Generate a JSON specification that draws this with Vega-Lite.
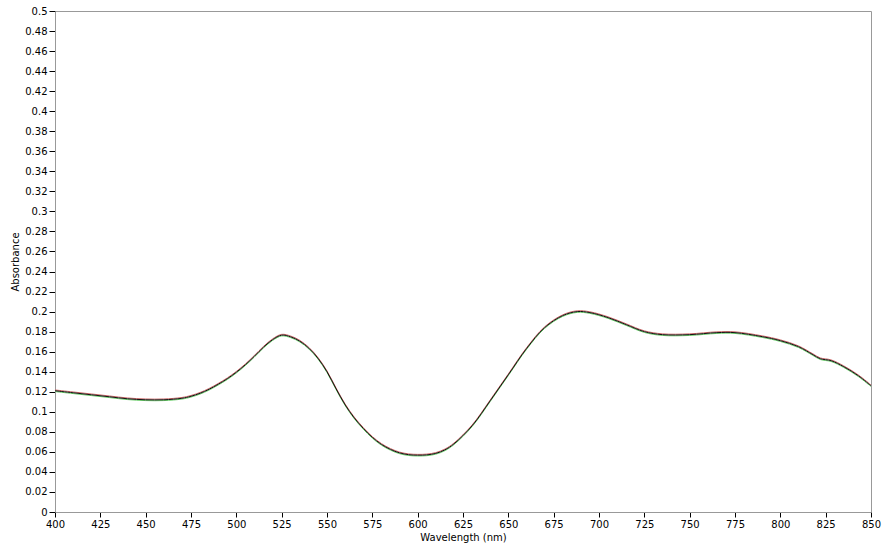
{
  "$schema": "https://vega.github.io/schema/vega-lite/v6.json",
  "width": 816,
  "height": 501,
  "autosize": "none",
  "padding": {"left": 55, "top": 11, "right": 17, "bottom": 41},
  "background": "white",
  "config": {
    "view": {"stroke": "#999999", "strokeWidth": 1},
    "axis": {"labelFont": "DejaVu Sans", "titleFont": "DejaVu Sans", "labelFontSize": 10, "titleFontSize": 10, "titleFontWeight": "normal", "labelColor": "#000", "titleColor": "#000", "domainColor": "#999999", "tickColor": "#000", "grid": false}
  },
  "datasets": {
    "spectra": [
      {"s": "green", "wl": 400, "a": 0.1202}, {"s": "green", "wl": 410, "a": 0.1182}, {"s": "green", "wl": 420, "a": 0.1162}, {"s": "green", "wl": 430, "a": 0.1142}, {"s": "green", "wl": 440, "a": 0.1122}, {"s": "green", "wl": 450, "a": 0.1112}, {"s": "green", "wl": 460, "a": 0.1112}, {"s": "green", "wl": 470, "a": 0.1127}, {"s": "green", "wl": 475, "a": 0.1147}, {"s": "green", "wl": 480, "a": 0.1177}, {"s": "green", "wl": 485, "a": 0.1217}, {"s": "green", "wl": 490, "a": 0.1267}, {"s": "green", "wl": 495, "a": 0.1322}, {"s": "green", "wl": 500, "a": 0.1387}, {"s": "green", "wl": 505, "a": 0.1462}, {"s": "green", "wl": 510, "a": 0.1547}, {"s": "green", "wl": 515, "a": 0.1637}, {"s": "green", "wl": 520, "a": 0.1712}, {"s": "green", "wl": 525, "a": 0.1757}, {"s": "green", "wl": 530, "a": 0.1740}, {"s": "green", "wl": 535, "a": 0.1697}, {"s": "green", "wl": 540, "a": 0.1627}, {"s": "green", "wl": 545, "a": 0.1527}, {"s": "green", "wl": 550, "a": 0.1392}, {"s": "green", "wl": 555, "a": 0.1222}, {"s": "green", "wl": 560, "a": 0.1062}, {"s": "green", "wl": 565, "a": 0.0932}, {"s": "green", "wl": 570, "a": 0.0827}, {"s": "green", "wl": 575, "a": 0.0737}, {"s": "green", "wl": 580, "a": 0.0667}, {"s": "green", "wl": 585, "a": 0.0617}, {"s": "green", "wl": 590, "a": 0.0582}, {"s": "green", "wl": 595, "a": 0.0564}, {"s": "green", "wl": 600, "a": 0.0559}, {"s": "green", "wl": 605, "a": 0.0562}, {"s": "green", "wl": 610, "a": 0.0577}, {"s": "green", "wl": 615, "a": 0.0612}, {"s": "green", "wl": 620, "a": 0.0672}, {"s": "green", "wl": 630, "a": 0.0852}, {"s": "green", "wl": 640, "a": 0.1102}, {"s": "green", "wl": 650, "a": 0.1362}, {"s": "green", "wl": 660, "a": 0.1622}, {"s": "green", "wl": 670, "a": 0.1832}, {"s": "green", "wl": 680, "a": 0.1952}, {"s": "green", "wl": 688, "a": 0.1992}, {"s": "green", "wl": 695, "a": 0.1982}, {"s": "green", "wl": 705, "a": 0.1932}, {"s": "green", "wl": 715, "a": 0.1862}, {"s": "green", "wl": 725, "a": 0.1792}, {"s": "green", "wl": 735, "a": 0.1762}, {"s": "green", "wl": 750, "a": 0.1762}, {"s": "green", "wl": 765, "a": 0.1782}, {"s": "green", "wl": 775, "a": 0.1782}, {"s": "green", "wl": 790, "a": 0.1742}, {"s": "green", "wl": 800, "a": 0.1702}, {"s": "green", "wl": 810, "a": 0.1642}, {"s": "green", "wl": 818, "a": 0.1562}, {"s": "green", "wl": 822, "a": 0.1522}, {"s": "green", "wl": 828, "a": 0.1502}, {"s": "green", "wl": 835, "a": 0.1442}, {"s": "green", "wl": 843, "a": 0.1352}, {"s": "green", "wl": 850, "a": 0.1252},
      {"s": "red", "wl": 400, "a": 0.1218}, {"s": "red", "wl": 410, "a": 0.1198}, {"s": "red", "wl": 420, "a": 0.1178}, {"s": "red", "wl": 430, "a": 0.1158}, {"s": "red", "wl": 440, "a": 0.1138}, {"s": "red", "wl": 450, "a": 0.1128}, {"s": "red", "wl": 460, "a": 0.1128}, {"s": "red", "wl": 470, "a": 0.1143}, {"s": "red", "wl": 475, "a": 0.1163}, {"s": "red", "wl": 480, "a": 0.1193}, {"s": "red", "wl": 485, "a": 0.1233}, {"s": "red", "wl": 490, "a": 0.1283}, {"s": "red", "wl": 495, "a": 0.1338}, {"s": "red", "wl": 500, "a": 0.1403}, {"s": "red", "wl": 505, "a": 0.1478}, {"s": "red", "wl": 510, "a": 0.1563}, {"s": "red", "wl": 515, "a": 0.1653}, {"s": "red", "wl": 520, "a": 0.1728}, {"s": "red", "wl": 525, "a": 0.1773}, {"s": "red", "wl": 530, "a": 0.1756}, {"s": "red", "wl": 535, "a": 0.1713}, {"s": "red", "wl": 540, "a": 0.1643}, {"s": "red", "wl": 545, "a": 0.1543}, {"s": "red", "wl": 550, "a": 0.1408}, {"s": "red", "wl": 555, "a": 0.1238}, {"s": "red", "wl": 560, "a": 0.1078}, {"s": "red", "wl": 565, "a": 0.0948}, {"s": "red", "wl": 570, "a": 0.0843}, {"s": "red", "wl": 575, "a": 0.0753}, {"s": "red", "wl": 580, "a": 0.0683}, {"s": "red", "wl": 585, "a": 0.0633}, {"s": "red", "wl": 590, "a": 0.0598}, {"s": "red", "wl": 595, "a": 0.0580}, {"s": "red", "wl": 600, "a": 0.0575}, {"s": "red", "wl": 605, "a": 0.0578}, {"s": "red", "wl": 610, "a": 0.0593}, {"s": "red", "wl": 615, "a": 0.0628}, {"s": "red", "wl": 620, "a": 0.0688}, {"s": "red", "wl": 630, "a": 0.0868}, {"s": "red", "wl": 640, "a": 0.1118}, {"s": "red", "wl": 650, "a": 0.1378}, {"s": "red", "wl": 660, "a": 0.1638}, {"s": "red", "wl": 670, "a": 0.1848}, {"s": "red", "wl": 680, "a": 0.1968}, {"s": "red", "wl": 688, "a": 0.2008}, {"s": "red", "wl": 695, "a": 0.1998}, {"s": "red", "wl": 705, "a": 0.1948}, {"s": "red", "wl": 715, "a": 0.1878}, {"s": "red", "wl": 725, "a": 0.1808}, {"s": "red", "wl": 735, "a": 0.1778}, {"s": "red", "wl": 750, "a": 0.1778}, {"s": "red", "wl": 765, "a": 0.1798}, {"s": "red", "wl": 775, "a": 0.1798}, {"s": "red", "wl": 790, "a": 0.1758}, {"s": "red", "wl": 800, "a": 0.1718}, {"s": "red", "wl": 810, "a": 0.1658}, {"s": "red", "wl": 818, "a": 0.1578}, {"s": "red", "wl": 822, "a": 0.1538}, {"s": "red", "wl": 828, "a": 0.1518}, {"s": "red", "wl": 835, "a": 0.1458}, {"s": "red", "wl": 843, "a": 0.1368}, {"s": "red", "wl": 850, "a": 0.1268},
      {"s": "black", "wl": 400, "a": 0.121}, {"s": "black", "wl": 410, "a": 0.119}, {"s": "black", "wl": 420, "a": 0.117}, {"s": "black", "wl": 430, "a": 0.115}, {"s": "black", "wl": 440, "a": 0.113}, {"s": "black", "wl": 450, "a": 0.112}, {"s": "black", "wl": 460, "a": 0.112}, {"s": "black", "wl": 470, "a": 0.1135}, {"s": "black", "wl": 475, "a": 0.1155}, {"s": "black", "wl": 480, "a": 0.1185}, {"s": "black", "wl": 485, "a": 0.1225}, {"s": "black", "wl": 490, "a": 0.1275}, {"s": "black", "wl": 495, "a": 0.133}, {"s": "black", "wl": 500, "a": 0.1395}, {"s": "black", "wl": 505, "a": 0.147}, {"s": "black", "wl": 510, "a": 0.1555}, {"s": "black", "wl": 515, "a": 0.1645}, {"s": "black", "wl": 520, "a": 0.172}, {"s": "black", "wl": 525, "a": 0.1765}, {"s": "black", "wl": 530, "a": 0.1748}, {"s": "black", "wl": 535, "a": 0.1705}, {"s": "black", "wl": 540, "a": 0.1635}, {"s": "black", "wl": 545, "a": 0.1535}, {"s": "black", "wl": 550, "a": 0.140}, {"s": "black", "wl": 555, "a": 0.123}, {"s": "black", "wl": 560, "a": 0.107}, {"s": "black", "wl": 565, "a": 0.094}, {"s": "black", "wl": 570, "a": 0.0835}, {"s": "black", "wl": 575, "a": 0.0745}, {"s": "black", "wl": 580, "a": 0.0675}, {"s": "black", "wl": 585, "a": 0.0625}, {"s": "black", "wl": 590, "a": 0.059}, {"s": "black", "wl": 595, "a": 0.0572}, {"s": "black", "wl": 600, "a": 0.0567}, {"s": "black", "wl": 605, "a": 0.057}, {"s": "black", "wl": 610, "a": 0.0585}, {"s": "black", "wl": 615, "a": 0.062}, {"s": "black", "wl": 620, "a": 0.068}, {"s": "black", "wl": 630, "a": 0.086}, {"s": "black", "wl": 640, "a": 0.111}, {"s": "black", "wl": 650, "a": 0.137}, {"s": "black", "wl": 660, "a": 0.163}, {"s": "black", "wl": 670, "a": 0.184}, {"s": "black", "wl": 680, "a": 0.196}, {"s": "black", "wl": 688, "a": 0.200}, {"s": "black", "wl": 695, "a": 0.199}, {"s": "black", "wl": 705, "a": 0.194}, {"s": "black", "wl": 715, "a": 0.187}, {"s": "black", "wl": 725, "a": 0.180}, {"s": "black", "wl": 735, "a": 0.177}, {"s": "black", "wl": 750, "a": 0.177}, {"s": "black", "wl": 765, "a": 0.179}, {"s": "black", "wl": 775, "a": 0.179}, {"s": "black", "wl": 790, "a": 0.175}, {"s": "black", "wl": 800, "a": 0.171}, {"s": "black", "wl": 810, "a": 0.165}, {"s": "black", "wl": 818, "a": 0.157}, {"s": "black", "wl": 822, "a": 0.153}, {"s": "black", "wl": 828, "a": 0.151}, {"s": "black", "wl": 835, "a": 0.145}, {"s": "black", "wl": 843, "a": 0.136}, {"s": "black", "wl": 850, "a": 0.126}
    ]
  },
  "data": {"name": "spectra"},
  "mark": {"type": "line", "interpolate": "catmull-rom"},
  "encoding": {
    "x": {
      "field": "wl", "type": "quantitative",
      "scale": {"domain": [400, 850], "nice": false, "zero": false},
      "axis": {"title": "Wavelength (nm)", "values": [400, 425, 450, 475, 500, 525, 550, 575, 600, 625, 650, 675, 700, 725, 750, 775, 800, 825, 850], "tickSize": 5, "labelPadding": 2, "titlePadding": 3, "labelFlush": false}
    },
    "y": {
      "field": "a", "type": "quantitative",
      "scale": {"domain": [0, 0.5], "nice": false},
      "axis": {"title": "Absorbance", "values": [0, 0.02, 0.04, 0.06, 0.08, 0.1, 0.12, 0.14, 0.16, 0.18, 0.2, 0.22, 0.24, 0.26, 0.28, 0.3, 0.32, 0.34, 0.36, 0.38, 0.4, 0.42, 0.44, 0.46, 0.48, 0.5], "format": "~g", "tickSize": 6, "labelPadding": 2, "titlePadding": 4, "labelFlush": false}
    },
    "color": {"field": "s", "type": "nominal", "scale": {"domain": ["green", "red", "black"], "range": ["#66cc66", "#cc6666", "#111111"]}, "legend": null},
    "strokeWidth": {"field": "s", "type": "nominal", "scale": {"domain": ["green", "red", "black"], "range": [1, 1, 1.4]}, "legend": null},
    "order": {"field": "s", "sort": "descending"}
  }
}
